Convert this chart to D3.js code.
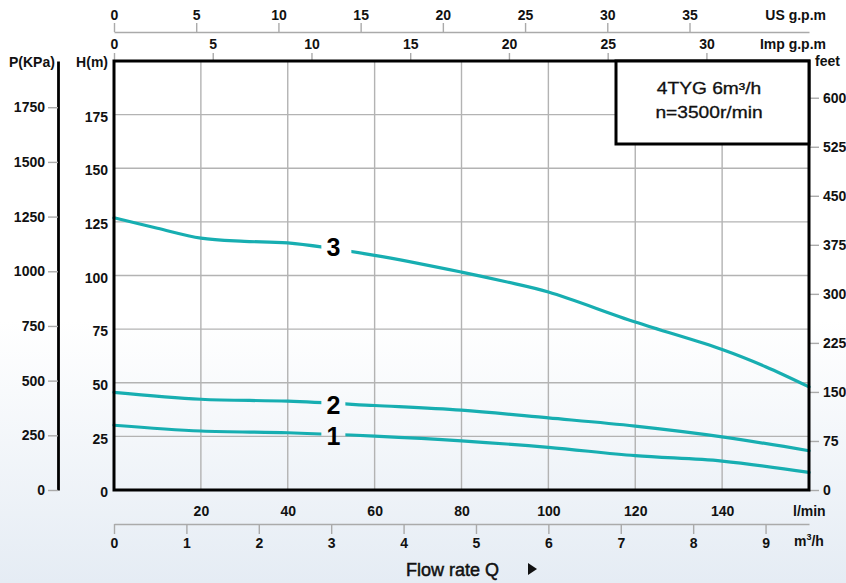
<!DOCTYPE html>
<html><head><meta charset="utf-8">
<script src="https://cdn.jsdelivr.net/npm/d3@7"></script>
<style>body{margin:0;background:#fff} svg{display:block}</style>
</head><body>
<svg id="c" width="846" height="583"></svg>
<script>
// ---- data (flow in l/min, head in m) ----
const flow3 = [0, 10, 20, 30, 40, 60, 80, 90, 100, 120, 140, 150, 160];
const head3 = [126.9, 122.0, 117.4, 115.9, 115.2, 109.4, 101.6, 97.2, 92.3, 78.3, 65.5, 57.5, 48.1];
const flow12 = [0, 20, 40, 60, 80, 100, 120, 140, 160];
const head2 = [45.5, 42.3, 41.4, 39.4, 37.2, 33.6, 29.8, 24.8, 18.3];
const head1 = [30.2, 27.5, 26.7, 25.1, 22.9, 19.9, 16.0, 13.5, 8.2];
const curveNames = ["1", "2", "3"];
const labelFlow = 50.5;

const lminTicks = [20, 40, 60, 80, 100, 120, 140];
const m3hTicks = [0, 1, 2, 3, 4, 5, 6, 7, 8, 9];
const usGpmTicks = [0, 5, 10, 15, 20, 25, 30, 35];
const impGpmTicks = [0, 5, 10, 15, 20, 25, 30];
const headTicks = [0, 25, 50, 75, 100, 125, 150, 175];
const kpaTicks = [0, 250, 500, 750, 1000, 1250, 1500, 1750];
const feetTicks = [0, 75, 150, 225, 300, 375, 450, 525, 600];
const gridFlow = [20, 40, 60, 80, 100, 120, 140];
const gridHead = [25, 50, 75, 100, 125, 150, 175];

const flowMax = 160, headMax = 200;
const titleLine1 = "4TYG 6m³/h";
const titleLine2 = "n=3500r/min";

// ---- layout ----
const L = 114, R = 809, T = 61, B = 490;
const teal = "#17aeb1";
const FONT = "'Liberation Sans', Arial, sans-serif";

const svg = d3.select("#c");
const defs = svg.append("defs");
const grad = defs.append("linearGradient").attr("id", "bg").attr("x1", 0).attr("y1", 0).attr("x2", 0).attr("y2", 1);
grad.append("stop").attr("offset", "0%").attr("stop-color", "#ffffff");
grad.append("stop").attr("offset", "55%").attr("stop-color", "#ffffff");
grad.append("stop").attr("offset", "100%").attr("stop-color", "#e5ecf4");
svg.append("rect").attr("width", 846).attr("height", 583).attr("fill", "url(#bg)");

const x = d3.scaleLinear().domain([0, flowMax]).range([L, R]);
const y = d3.scaleLinear().domain([0, headMax]).range([B, T]);
const xUS = d3.scaleLinear().domain([0, flowMax / 3.78541]).range([L, R]);
const xImp = d3.scaleLinear().domain([0, flowMax / 4.54609]).range([L, R]);
const xM3 = d3.scaleLinear().domain([0, flowMax * 60 / 1000]).range([L, R]);
const yKpa = d3.scaleLinear().domain([0, headMax * 9.80665]).range([B, T]);
const yFeet = d3.scaleLinear().domain([0, headMax / 0.3048]).range([B, T]);
const fmt = d3.format("d");

// grid
svg.append("g").selectAll("line").data(gridFlow).join("line")
  .attr("x1", d => x(d)).attr("x2", d => x(d)).attr("y1", T).attr("y2", B)
  .attr("stroke", "#b3b3b3").attr("stroke-width", 1.4);
svg.append("g").selectAll("line").data(gridHead).join("line")
  .attr("x1", L).attr("x2", R).attr("y1", d => y(d)).attr("y2", d => y(d))
  .attr("stroke", "#b3b3b3").attr("stroke-width", 1.4);

function styleAxis(g, tickColor) {
  g.selectAll("text").attr("font-family", FONT).attr("font-weight", "bold")
    .attr("font-size", 14).attr("fill", "#111");
  g.selectAll(".tick line").attr("stroke", tickColor).attr("stroke-width", 1.4);
  g.attr("font-family", null);
}

// top US gpm axis
const gUS = svg.append("g").attr("transform", "translate(0,32)")
  .call(d3.axisTop(xUS).tickValues(usGpmTicks).tickFormat(fmt).tickSize(9).tickPadding(3).tickSizeOuter(0));
gUS.select(".domain").attr("stroke", "#aaa").attr("stroke-width", 1.4);
styleAxis(gUS, "#aaa");

// Imp gpm axis
const gImp = svg.append("g").attr("transform", `translate(0,${T})`)
  .call(d3.axisTop(xImp).tickValues(impGpmTicks).tickFormat(fmt).tickSize(8).tickPadding(4).tickSizeOuter(0));
gImp.select(".domain").remove();
styleAxis(gImp, "#aaa");

// bottom l/min axis
const gL = svg.append("g").attr("transform", `translate(0,${B})`)
  .call(d3.axisBottom(x).tickValues(lminTicks).tickFormat(fmt).tickSize(0).tickPadding(16));
gL.select(".domain").remove();
styleAxis(gL, "none");

// m3/h axis
const gM = svg.append("g").attr("transform", "translate(0,524)")
  .call(d3.axisBottom(xM3).tickValues(m3hTicks).tickFormat(fmt).tickSize(10).tickPadding(4).tickSizeOuter(0));
gM.select(".domain").attr("stroke", "#aaa").attr("stroke-width", 1.4);
styleAxis(gM, "#aaa");

// P axis
const gP = svg.append("g").attr("transform", "translate(58,0)")
  .call(d3.axisLeft(yKpa).tickValues(kpaTicks).tickFormat(fmt).tickSize(10).tickPadding(3).tickSizeOuter(0));
gP.select(".domain").attr("stroke", "#000").attr("stroke-width", 2.8);
styleAxis(gP, "#aaa");

// H axis
const gH = svg.append("g").attr("transform", `translate(${L},0)`)
  .call(d3.axisLeft(y).tickValues(headTicks).tickFormat(fmt).tickSize(0).tickPadding(6));
gH.select(".domain").remove();
styleAxis(gH, "none");
gH.selectAll("text").attr("dy", "0.48em");

// feet axis
const gF = svg.append("g").attr("transform", `translate(${R},0)`)
  .call(d3.axisRight(yFeet).tickValues(feetTicks).tickFormat(fmt).tickSize(10).tickPadding(4));
gF.select(".domain").remove();
styleAxis(gF, "#aaa");

// curves with gaps for labels
const series = [
  { name: curveNames[0], flow: flow12, head: head1 },
  { name: curveNames[1], flow: flow12, head: head2 },
  { name: curveNames[2], flow: flow3, head: head3 }
];
function interp(fl, hd, q) {
  for (let i = 0; i < fl.length - 1; i++) {
    if (q >= fl[i] && q <= fl[i + 1]) {
      const t = (q - fl[i]) / (fl[i + 1] - fl[i]);
      return hd[i] + t * (hd[i + 1] - hd[i]);
    }
  }
  return hd[hd.length - 1];
}
series.forEach(s => { s.lh = interp(s.flow, s.head, labelFlow); });

const mask = defs.append("mask").attr("id", "gapmask").attr("maskUnits", "userSpaceOnUse")
  .attr("x", 0).attr("y", 0).attr("width", 846).attr("height", 583);
mask.append("rect").attr("width", 846).attr("height", 583).attr("fill", "#fff");
mask.selectAll("rect.g").data(series).join("rect").attr("class", "g")
  .attr("x", d => x(labelFlow) - 12).attr("y", d => y(d.lh) - 14)
  .attr("width", d => d.name === "3" ? 30 : 24).attr("height", 28).attr("fill", "#000");

const line = d3.line().x(d => x(d[0])).y(d => y(d[1])).curve(d3.curveCatmullRom.alpha(0.5));
svg.append("g").attr("mask", "url(#gapmask)").selectAll("path").data(series).join("path")
  .attr("d", s => line(s.flow.map((f, i) => [f, s.head[i]])))
  .attr("fill", "none").attr("stroke", teal).attr("stroke-width", 3.2).attr("stroke-linecap", "round");

svg.append("g").selectAll("text").data(series).join("text")
  .attr("x", d => x(labelFlow)).attr("y", d => y(d.lh) + (d.name === "3" ? -2 : d.name === "2" ? 2 : 1))
  .attr("text-anchor", "middle").attr("dominant-baseline", "central")
  .attr("font-family", FONT).attr("font-weight", "bold").attr("font-size", 25)
  .attr("fill", "#000").text(d => d.name);

// frame
svg.append("rect").attr("x", L).attr("y", T).attr("width", R - L).attr("height", B - T)
  .attr("fill", "none").attr("stroke", "#000").attr("stroke-width", 3);

// info box
svg.append("rect").attr("x", 616).attr("y", T).attr("width", R - 616).attr("height", 83)
  .attr("fill", "#fff").attr("stroke", "#000").attr("stroke-width", 3);
const tb = svg.append("g").attr("transform", "translate(709,0) scale(1.2,1)");
tb.append("text").attr("x", 0).attr("y", 94).attr("text-anchor", "middle")
  .attr("font-family", FONT).attr("font-size", 16).attr("fill", "#111")
  .attr("stroke", "#111").attr("stroke-width", 0.3).text(titleLine1);
tb.append("text").attr("x", 0).attr("y", 118).attr("text-anchor", "middle")
  .attr("font-family", FONT).attr("font-size", 16).attr("fill", "#111")
  .attr("stroke", "#111").attr("stroke-width", 0.3).text(titleLine2);

// unit labels
function lab(txt, xx, yy, anchor, size, weight) {
  return svg.append("text").attr("x", xx).attr("y", yy).attr("text-anchor", anchor || "start")
    .attr("font-family", FONT).attr("font-weight", weight || "bold").attr("font-size", size || 14)
    .attr("fill", "#111").text(txt);
}
lab("P(KPa)", 9, 67);
lab("H(m)", 108, 67, "end");
lab("US g.p.m", 826, 20, "end");
lab("Imp g.p.m", 826, 49, "end");
lab("feet", 815, 66);
lab("l/min", 793, 516);
const m3 = svg.append("text").attr("x", 794).attr("y", 546).attr("font-family", FONT)
  .attr("font-weight", "bold").attr("font-size", 14).attr("fill", "#111");
m3.append("tspan").text("m");
m3.append("tspan").attr("font-size", 9).attr("dy", -6).text("3");
m3.append("tspan").attr("dy", 6).text("/h");
lab("Flow rate Q", 406, 576, "start", 18, "normal").attr("stroke", "#111").attr("stroke-width", 0.5);
svg.append("path").attr("d", "M528,563 L528,575 L537,569 Z").attr("fill", "#111");
</script>
</body></html>
